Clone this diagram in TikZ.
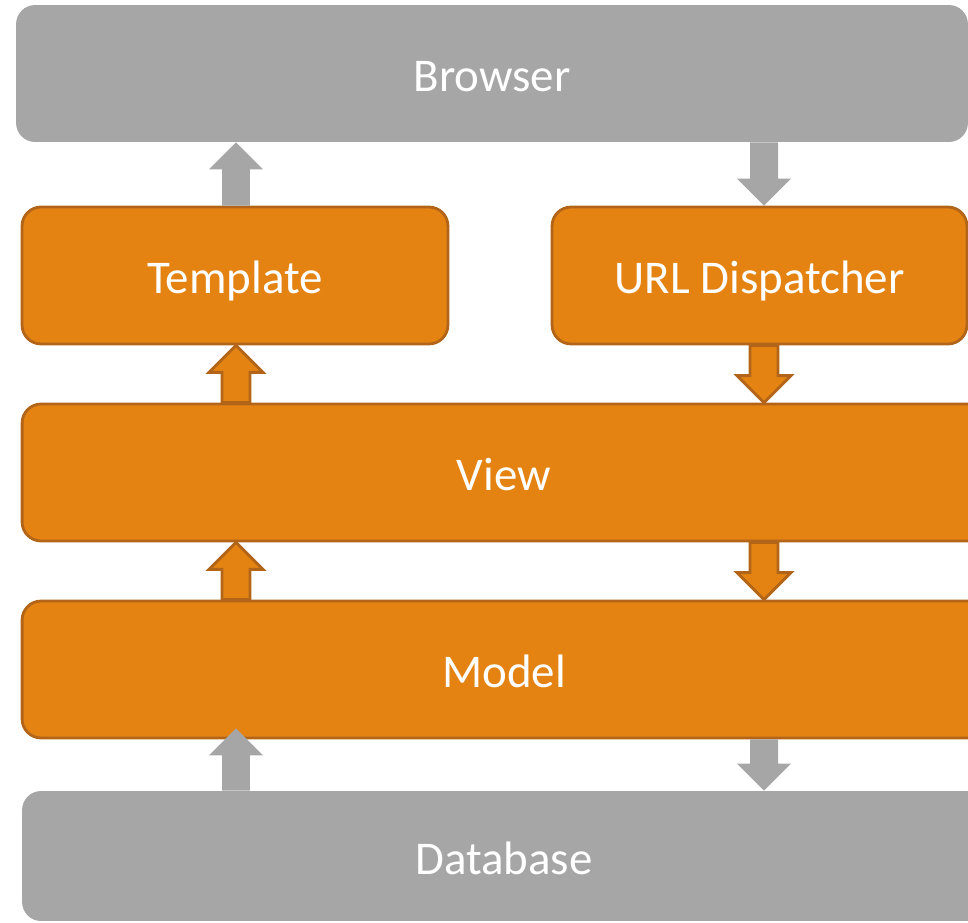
\documentclass[tikz,border=0pt]{standalone}
\usepackage{fontspec}
\setmainfont{Carlito}
\usetikzlibrary{calc}

\definecolor{boxgray}{RGB}{166,166,166}
\definecolor{boxorange}{RGB}{228,131,18}
\definecolor{edgeorange}{RGB}{178,101,24}

\tikzset{
  layer/.style={rounded corners=0.38cm, text=white, minimum height=2.74cm,
    font=\fontsize{26.7}{32}\selectfont, text height=22pt, text depth=1pt},
  graybox/.style={layer, fill=boxgray},
  orangebox/.style={layer, fill=boxorange, draw=edgeorange, line width=1.6pt},
  % fat block arrow from start to target
  blockarrow/.style={to path={
    ($(\tikztostart)!0.28cm!90:(\tikztotarget)$)
    -- ($($(\tikztotarget)!0.54cm!(\tikztostart)$)!0.28cm!90:(\tikztotarget)$)
    -- ($($(\tikztotarget)!0.54cm!(\tikztostart)$)!0.54cm!90:(\tikztotarget)$)
    -- (\tikztotarget)
    -- ($($(\tikztotarget)!0.54cm!(\tikztostart)$)!0.54cm!-90:(\tikztotarget)$)
    -- ($($(\tikztotarget)!0.54cm!(\tikztostart)$)!0.28cm!-90:(\tikztotarget)$)
    -- ($(\tikztostart)!0.28cm!-90:(\tikztotarget)$)
    -- cycle}},
  grayarrow/.style={blockarrow, fill=boxgray, draw=none},
  orangearrow/.style={blockarrow, fill=boxorange, draw=edgeorange, line width=1.6pt}
}

\begin{document}
\begin{tikzpicture}[x=0.02cm, y=-0.02cm]
  \useasboundingbox (0,0) rectangle (968,923);
  \clip (0,0) rectangle (968,923);

  \node[graybox, minimum width=19.04cm]   (brw)   at (492,73.5)  {Browser};
  \node[orangebox, minimum width=8.52cm]  (tmpl)  at (235,275.5) {Template};
  \node[orangebox, minimum width=8.3cm]   (url)   at (759.5,275.5) {URL Dispatcher};
  \node[orangebox, minimum width=19.28cm] (view)  at (504,472.5) {View};
  \node[orangebox, minimum width=19.28cm] (model) at (504,669.5) {Model};
  \node[graybox, minimum width=19.28cm, minimum height=2.6cm] (db) at (504,856) {Database};

  \coordinate (lcol) at (236,0);
  \coordinate (rcol) at (764,0);
  \coordinate (dbtip) at ([yshift=0.22cm]lcol |- model.south);

  \draw[grayarrow]   (lcol |- tmpl.north)  to (lcol |- brw.south);
  \draw[grayarrow]   (rcol |- brw.south)   to (rcol |- url.north);
  \draw[orangearrow] (lcol |- view.north)  to (lcol |- tmpl.south);
  \draw[orangearrow] (rcol |- url.south)   to (rcol |- view.north);
  \draw[orangearrow] (lcol |- model.north) to (lcol |- view.south);
  \draw[orangearrow] (rcol |- view.south)  to (rcol |- model.north);
  \draw[grayarrow]   (lcol |- db.north)    to (dbtip);
  \draw[grayarrow]   (rcol |- model.south) to (rcol |- db.north);
\end{tikzpicture}
\end{document}
